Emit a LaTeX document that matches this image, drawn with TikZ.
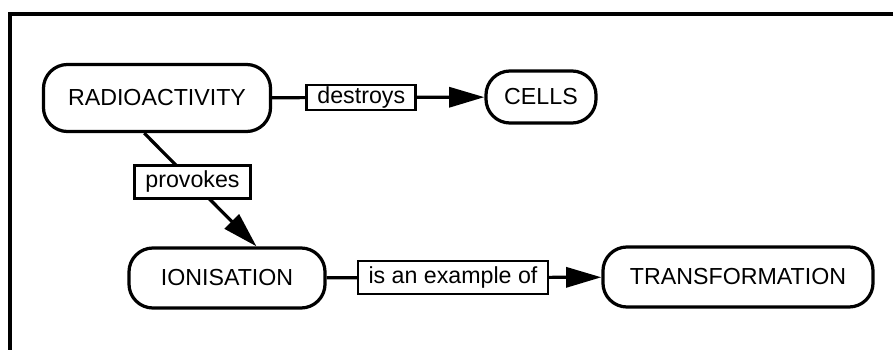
\documentclass[tikz,border=0pt]{standalone}
\usepackage{fontspec}
\setmainfont{Liberation Sans}
\usetikzlibrary{arrows.meta}
\tikzset{
  every picture/.style={line width=2.3pt, font=\fontsize{16.5}{20}\selectfont},
  concept/.style={draw, rounded corners=0.6cm, align=center, inner sep=4pt},
  lbl/.style={draw, fill=white, inner sep=1pt, inner xsep=7.5pt, minimum height=0.825cm, line width=2pt},
  arrow/.style={-{Triangle[length=8.8mm, width=5mm]}},
  frame/.style={line width=2.4pt},
}
\begin{document}
\begin{tikzpicture}[x=0.025cm, y=-0.025cm,
  big/.style={concept, minimum width=5.675cm, minimum height=1.675cm},
  mid/.style={concept, minimum width=4.9cm, minimum height=1.5cm},
  wide/.style={concept, minimum width=6.75cm, minimum height=1.5cm},
  small/.style={concept, minimum width=2.75cm, minimum height=1.3cm}]
  \useasboundingbox (0,0) rectangle (896,350);
  % ---- frame ----
  \draw[frame] (893,14) -- (10,14) -- (10,350);
  % ---- concepts ----
  \node[big] (radio) at (157,98) {RADIOACTIVITY};
  \node[small] (cells) at (541,97) {CELLS};
  \node[mid] (ionis) at (227,278) {IONISATION};
  \node[wide] (transf) at (738,277) {TRANSFORMATION};
  % ---- links ----
  \draw[arrow] (radio) -- node[lbl, pos=0.42, minimum height=0.625cm] (destroys) {destroys} (cells);
  \draw[arrow] (radio.250) -- node[lbl, pos=0.43] (provokes) {provokes} (ionis.47);
  \draw[arrow] (ionis) -- node[lbl, pos=0.46] (example) {is an example of} (transf);
\end{tikzpicture}
\end{document}
